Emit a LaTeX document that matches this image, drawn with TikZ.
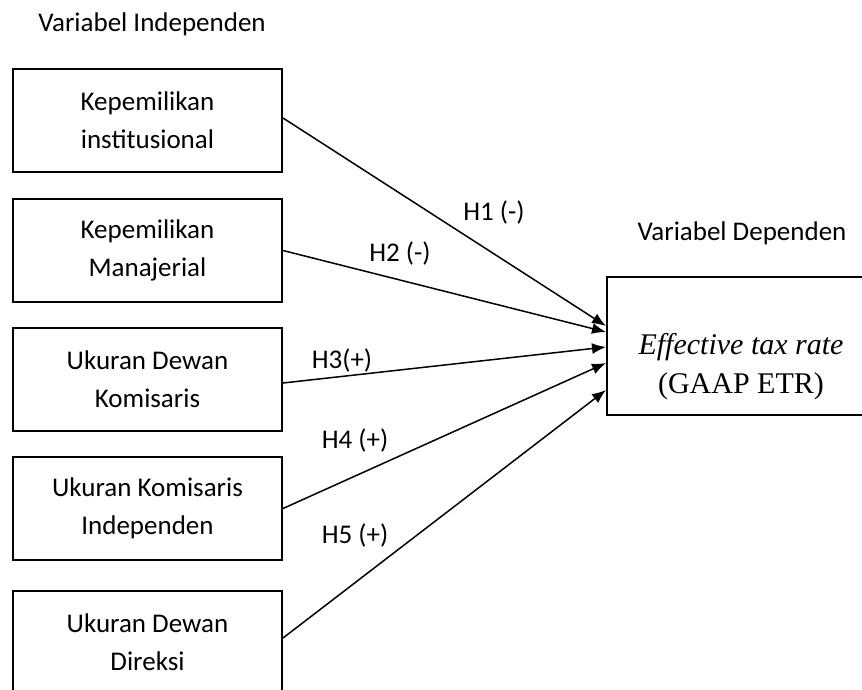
\documentclass[tikz,border=0pt]{standalone}
\usepackage{fontspec}
\setmainfont{Carlito}
\newfontfamily\timesfont{Liberation Serif}
\usetikzlibrary{arrows.meta}
\begin{document}
\begin{tikzpicture}[x=1pt,y=-1pt,
  varbox/.style={draw,line width=2pt,minimum width=269pt,minimum height=103pt,align=center,inner sep=0pt,font=\fontsize{27}{38}\selectfont},
  lbl/.style={font=\fontsize{27}{32}\selectfont,inner sep=0pt},
  conn/.style={line width=1.5pt,-{Latex[length=14pt,width=11pt]}}]
\clip (0,0) rectangle (862,689);
\fill[white] (0,0) rectangle (862,689);
\node[lbl] (ti) at (152,24) {Variabel Independen};
\node[lbl] (td) at (742,233) {Variabel Dependen};
\node[varbox] (b1) at (147.5,120.5) {Kepemilikan\\institusional};
\node[varbox] (b2) at (147.5,250.5) {Kepemilikan\\Manajerial};
\node[varbox] (b3) at (147.5,379.5) {Ukuran Dewan\\Komisaris};
\node[varbox] (b4) at (147.5,508.5) {Ukuran Komisaris\\Independen};
\node[varbox] (b5) at (147.5,642.5) {Ukuran Dewan\\Direksi};
\node[draw,line width=2pt,minimum width=272pt,minimum height=138pt,inner sep=0pt] (tb) at (743,346) {};
\node[align=center,inner sep=0pt,font=\timesfont\fontsize{30}{39}\selectfont] (tt) at (741,367) {\itshape Effective tax rate\\(GAAP ETR)};
\draw[conn] ([yshift=2.5pt]b1.east) -- ([yshift=20pt]tb.west);
\draw[conn] (b2.east) -- ([yshift=14pt]tb.west);
\draw[conn] ([yshift=-3.5pt]b3.east) -- ([yshift=-1pt]tb.west);
\draw[conn] (b4.east) -- ([yshift=-17pt]tb.west);
\draw[conn] ([yshift=4.5pt]b5.east) -- ([yshift=-44pt]tb.west);
\node[lbl] (h1) at (494,212) {H1 (-)};
\node[lbl] (h2) at (400,253) {H2 (-)};
\node[lbl] (h3) at (342,360) {H3(+)};
\node[lbl] (h4) at (355,440) {H4 (+)};
\node[lbl] (h5) at (355,535) {H5 (+)};
\end{tikzpicture}
\end{document}
